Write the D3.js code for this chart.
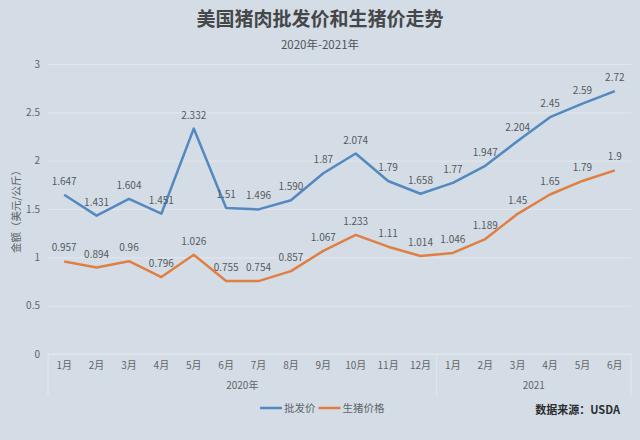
<!DOCTYPE html>
<html lang="zh">
  <head>
    <meta charset='utf-8'>
    <script src='https://d3js.org/d3.v7.min.js'></script>
    <title>美国猪肉批发价和生猪价走势</title>
    <style>
      body {
        margin: 0px;
        background: #d4dde6;
        overflow: hidden;
      }
      svg {
        display: block;
      }
      text {
        font-family: 'Noto Sans CJK SC', 'Noto Sans', sans-serif;
      }
      .domain {
        display: none;
      }
      .tick text {
        fill: #606468;
        font-size: 10px;
      }
      .data-label {
        fill: #55595d;
        font-size: 10px;
        text-anchor: middle;
      }
    </style>
  </head>
  <body>
    <div id='viz'></div>
    <script>
      const width = 640,
      height = 440;

      // categories
      const months = ['1月', '2月', '3月', '4月', '5月', '6月', '7月', '8月', '9月', '10月', '11月', '12月',
                      '1月', '2月', '3月', '4月', '5月', '6月'];
      const years = [
        { label: '2020年', count: 12 },
        { label: '2021', count: 6 }
      ];

      // series values
      const wholesale = [1.647, 1.431, 1.604, 1.451, 2.332, 1.51, 1.496, 1.590, 1.87, 2.074, 1.79, 1.658,
                         1.77, 1.947, 2.204, 2.45, 2.59, 2.72];
      const wholesaleLabels = ['1.647', '1.431', '1.604', '1.451', '2.332', '1.51', '1.496', '1.590', '1.87', '2.074', '1.79', '1.658',
                               '1.77', '1.947', '2.204', '2.45', '2.59', '2.72'];
      const hog = [0.957, 0.894, 0.96, 0.796, 1.026, 0.755, 0.754, 0.857, 1.067, 1.233, 1.11, 1.014,
                   1.046, 1.189, 1.45, 1.65, 1.79, 1.9];
      const hogLabels = ['0.957', '0.894', '0.96', '0.796', '1.026', '0.755', '0.754', '0.857', '1.067', '1.233', '1.11', '1.014',
                         '1.046', '1.189', '1.45', '1.65', '1.79', '1.9'];

      const yTicks = [0, 0.5, 1, 1.5, 2, 2.5, 3];

      const series = [
        { name: '批发价', values: wholesale, labels: wholesaleLabels, color: '#5389bf' },
        { name: '生猪价格', values: hog, labels: hogLabels, color: '#e07f42' }
      ];

      const margin = { left: 48, right: 9, top: 64, bottom: 86 };
      const innerWidth = width - margin.left - margin.right;
      const innerHeight = height - margin.top - margin.bottom;

      const svg = d3.select('#viz').append('svg')
        .attr('width', width)
        .attr('height', height);

      svg.append('rect')
        .attr('width', width)
        .attr('height', height)
        .attr('fill', '#d4dde6');

      // title
      svg.append('text')
        .attr('x', width / 2)
        .attr('y', 26)
        .attr('text-anchor', 'middle')
        .attr('fill', '#454749')
        .style('font-size', '19px')
        .style('font-weight', 'bold')
        .text('美国猪肉批发价和生猪价走势');

      svg.append('text')
        .attr('x', width / 2)
        .attr('y', 49)
        .attr('text-anchor', 'middle')
        .attr('fill', '#505356')
        .style('font-size', '11.5px')
        .text('2020年-2021年');

      const g = svg.append('g')
        .attr('transform', `translate(${margin.left},${margin.top})`);

      const xScale = d3.scaleBand()
        .domain(d3.range(months.length))
        .range([0, innerWidth]);

      const yScale = d3.scaleLinear()
        .domain([0, 3])
        .range([innerHeight, 0]);

      const xCenter = i => xScale(i) + xScale.bandwidth() / 2;

      // y axis with gridlines
      const yAxis = d3.axisLeft(yScale)
        .tickValues(yTicks)
        .tickFormat(d3.format('~g'))
        .tickSize(-innerWidth)
        .tickPadding(8);

      const yAxisG = g.append('g').call(yAxis);
      yAxisG.selectAll('.tick line')
        .attr('stroke', '#e2e7ed')
        .attr('stroke-width', 1);

      // y axis title
      g.append('text')
        .attr('transform', `translate(${-28},${innerHeight / 2}) rotate(-90)`)
        .attr('text-anchor', 'middle')
        .attr('fill', '#606468')
        .style('font-size', '10.5px')
        .text('金额（美元/公斤）');

      // x axis: months
      const xAxis = d3.axisBottom(xScale)
        .tickFormat(i => months[i])
        .tickSize(0)
        .tickPadding(8);

      g.append('g')
        .attr('transform', `translate(0,${innerHeight})`)
        .call(xAxis);

      g.append('line')
        .attr('x1', 0)
        .attr('x2', innerWidth)
        .attr('y1', innerHeight)
        .attr('y2', innerHeight)
        .attr('stroke', '#e2e7ed');

      // year groups
      let start = 0;
      const boundaries = [0];
      years.forEach(y => {
        const x0 = xScale(start);
        const x1 = start + y.count < months.length ? xScale(start + y.count) : innerWidth;
        boundaries.push(x1);
        g.append('text')
          .attr('x', (x0 + x1) / 2)
          .attr('y', innerHeight + 35)
          .attr('text-anchor', 'middle')
          .attr('fill', '#606468')
          .style('font-size', '10px')
          .text(y.label);
        start += y.count;
      });

      g.selectAll('.year-sep')
        .data(boundaries)
        .enter().append('line')
        .attr('class', 'year-sep')
        .attr('x1', d => d)
        .attr('x2', d => d)
        .attr('y1', innerHeight)
        .attr('y2', innerHeight + 42)
        .attr('stroke', '#e2e7ed');

      // lines
      const line = d3.line()
        .x((d, i) => xCenter(i))
        .y(d => yScale(d));

      series.forEach(s => {
        g.append('path')
          .datum(s.values)
          .attr('fill', 'none')
          .attr('stroke', s.color)
          .attr('stroke-width', 2.5)
          .attr('stroke-linejoin', 'round')
          .attr('d', line);
      });

      series.forEach(s => {
        g.selectAll(null)
          .data(s.values)
          .enter().append('text')
          .attr('class', 'data-label')
          .attr('x', (d, i) => xCenter(i))
          .attr('y', d => yScale(d) - 10)
          .text((d, i) => s.labels[i]);
      });

      // legend
      const legend = svg.append('g')
        .attr('transform', 'translate(260,408)');
      let lx = 0;
      series.forEach(s => {
        legend.append('line')
          .attr('x1', lx)
          .attr('x2', lx + 22)
          .attr('stroke', s.color)
          .attr('stroke-width', 2.5);
        const t = legend.append('text')
          .attr('x', lx + 24)
          .attr('y', 4)
          .attr('fill', '#606468')
          .style('font-size', '10.5px')
          .text(s.name);
        lx += 24 + t.node().getComputedTextLength() + 3;
      });

      // source
      svg.append('text')
        .attr('x', 620)
        .attr('y', 414)
        .attr('text-anchor', 'end')
        .attr('fill', '#2b2d2f')
        .style('font-size', '11px')
        .style('font-weight', 'bold')
        .text('数据来源：USDA');
    </script>
  </body>
</html>
